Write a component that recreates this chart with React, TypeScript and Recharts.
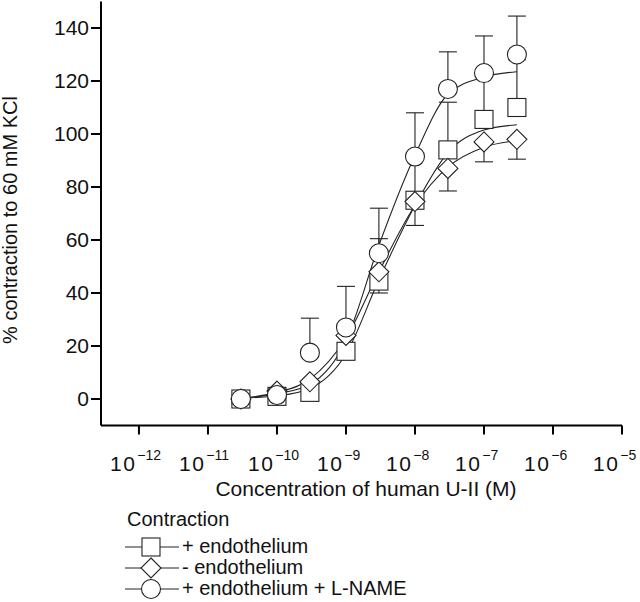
import React from "react";
import { ComposedChart, Line, XAxis, YAxis, ErrorBar } from "recharts";

// molar concentrations of U-II
const concentrations = [3e-11, 1e-10, 3e-10, 1e-9, 3e-9, 1e-8, 3e-8, 1e-7, 3e-7];

// + endothelium (squares), error bars point up
const withEndo = [0, 1, 2.5, 18, 44.5, 75, 94, 105.5, 110];
const withEndoErr = [null, null, null, null, 16, 16, 18, 17, 18];
const withEndoFit = [0.3, 1.2, 4, 17, 45, 73, 93, 101.5, 103.5];

// - endothelium (diamonds), error bars point down
const noEndo = [0, 3, 6.5, 24, 48, 74.5, 87, 97, 98];
const noEndoErr = [null, null, null, null, 8, 9, 8.5, 7.5, 7.5];
const noEndoFit = [0.3, 2.5, 7.5, 23, 48, 73, 87.5, 95, 97.5];

// + endothelium + L-NAME (circles), error bars point up
const lName = [0, 1.5, 17.5, 27, 55, 91.5, 117, 123, 130];
const lNameErr = [null, null, 13, 15.5, 17, 16.5, 14, 14, 14.5];
const lNameFit = [0.3, 2, 5.5, 22, 58, 92, 115, 121.5, 123.5];

const xTicks = [-12, -11, -10, -9, -8, -7, -6, -5];
const xTickExponents = ["−12", "−11", "−10", "−9", "−8", "−7", "−6", "−5"];
const yTicks = [0, 20, 40, 60, 80, 100, 120, 140];

const legendItems = ["+ endothelium", "- endothelium", "+ endothelium + L-NAME"];

const FONT = "'Liberation Sans', Arial, Helvetica, sans-serif";
const INK = "#111";

const rows = concentrations.map((c, i) => ({
  lx: Math.log10(c),
  sq: withEndo[i],
  sqFit: withEndoFit[i],
  sqErr: withEndoErr[i] == null ? undefined : [0, withEndoErr[i]],
  di: noEndo[i],
  diFit: noEndoFit[i],
  diErr: noEndoErr[i] == null ? undefined : [noEndoErr[i], 0],
  ci: lName[i],
  ciFit: lNameFit[i],
  ciErr: lNameErr[i] == null ? undefined : [0, lNameErr[i]],
}));

const markStyle = { fill: "#fff", stroke: "#222", strokeWidth: 1.1 };

const Square = ({ cx, cy }: { cx: number; cy: number }) => (
  <rect x={cx - 9} y={cy - 9} width={18} height={18} {...markStyle} />
);
const Diamond = ({ cx, cy }: { cx: number; cy: number }) => (
  <polygon
    points={`${cx},${cy - 10} ${cx + 10},${cy} ${cx},${cy + 10} ${cx - 10},${cy}`}
    {...markStyle}
  />
);
const Circle = ({ cx, cy }: { cx: number; cy: number }) => (
  <circle cx={cx} cy={cy} r={9.5} {...markStyle} />
);

const dotOf = (Mark: any, name: string) => (p: any) => {
  if (p.cx == null || p.cy == null) return <g key={`${name}-${p.index}`} />;
  return (
    <g key={`${name}-${p.index}`}>
      <Mark cx={p.cx} cy={p.cy} />
    </g>
  );
};

const XTick = (props: any) => {
  const { x, y, payload, index } = props;
  return (
    <text x={x - 29} y={y + 34} fontSize={21} fontFamily={FONT} fill={INK}>
      <tspan letterSpacing={1.5}>10</tspan>
      <tspan fontSize={14} dy={-11} dx={1}>
        {xTickExponents[index] ?? String(payload.value)}
      </tspan>
    </text>
  );
};

const YLabel = () => (
  <text
    x={17}
    y={220}
    transform="rotate(-90 17 220)"
    textAnchor="middle"
    fontSize={20}
    fontFamily={FONT}
    fill={INK}
  >
    % contraction to 60 mM KCl
  </text>
);

const XLabel = () => (
  <text x={366} y={496} textAnchor="middle" fontSize={21} fontFamily={FONT} fill={INK}>
    Concentration of human U-II (M)
  </text>
);

const LegendIcon = ({ kind }: { kind: number }) => (
  <svg width={54} height={22} style={{ display: "block" }}>
    <line x1={0} y1={11} x2={54} y2={11} stroke="#222" strokeWidth={1} />
    {kind === 0 && <Square cx={26} cy={11} />}
    {kind === 1 && <Diamond cx={26} cy={11} />}
    {kind === 2 && <Circle cx={26} cy={11} />}
  </svg>
);

export default function App() {
  return (
    <div style={{ position: "absolute", left: 0, top: 0, width: 640, height: 602, background: "#fff" }}>
      <ComposedChart
        width={640}
        height={602}
        data={rows}
        margin={{ top: 1.5, right: 18, bottom: 96.5, left: 0 }}
      >
        <XAxis
          type="number"
          dataKey="lx"
          domain={[-12.55, -5]}
          ticks={xTicks}
          allowDataOverflow
          height={80}
          tickSize={9}
          stroke="#000"
          strokeWidth={2}
          tick={<XTick />}
          label={XLabel}
        />
        <YAxis
          type="number"
          domain={[-10, 150]}
          ticks={yTicks}
          allowDataOverflow
          width={101}
          tickSize={10}
          stroke="#000"
          strokeWidth={2}
          tick={{ fontSize: 21, fontFamily: FONT, fill: INK }}
          label={YLabel}
        />

        <Line dataKey="sqFit" type="monotone" stroke="#222" strokeWidth={1.1} dot={false} isAnimationActive={false} />
        <Line dataKey="diFit" type="monotone" stroke="#222" strokeWidth={1.1} dot={false} isAnimationActive={false} />
        <Line dataKey="ciFit" type="monotone" stroke="#222" strokeWidth={1.1} dot={false} isAnimationActive={false} />

        <Line dataKey="sq" stroke="none" dot={dotOf(Square, "sq")} activeDot={false} isAnimationActive={false}>
          <ErrorBar dataKey="sqErr" direction="y" width={9} stroke="#222" strokeWidth={1.1} />
        </Line>
        <Line dataKey="di" stroke="none" dot={dotOf(Diamond, "di")} activeDot={false} isAnimationActive={false}>
          <ErrorBar dataKey="diErr" direction="y" width={9} stroke="#222" strokeWidth={1.1} />
        </Line>
        <Line dataKey="ci" stroke="none" dot={dotOf(Circle, "ci")} activeDot={false} isAnimationActive={false}>
          <ErrorBar dataKey="ciErr" direction="y" width={9} stroke="#222" strokeWidth={1.1} />
        </Line>
      </ComposedChart>

      <div
        style={{
          position: "absolute",
          left: 127,
          top: 509,
          fontFamily: FONT,
          fontSize: 20,
          color: INK,
          lineHeight: "21px",
        }}
      >
        <div style={{ marginBottom: 6 }}>Contraction</div>
        {legendItems.map((name, i) => (
          <div key={name} style={{ display: "flex", alignItems: "center", height: 21, marginLeft: -2 }}>
            <LegendIcon kind={i} />
            <span style={{ marginLeft: 3 }}>{name}</span>
          </div>
        ))}
      </div>
    </div>
  );
}
